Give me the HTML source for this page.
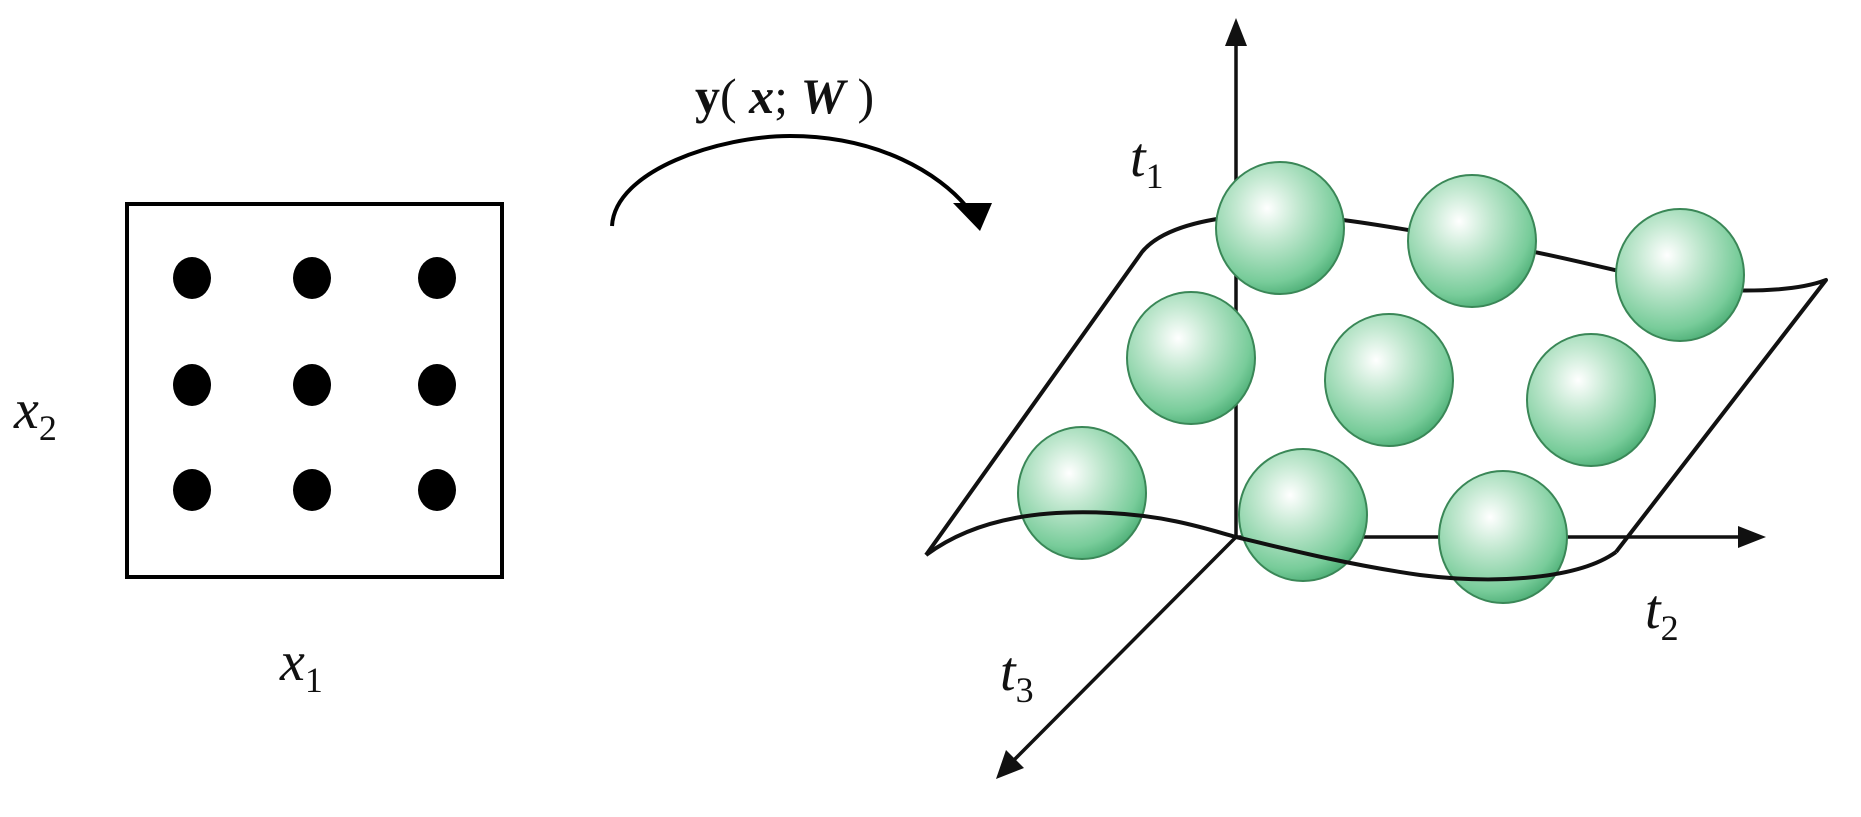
<!DOCTYPE html>
<html><head><style>
html,body{margin:0;padding:0;background:#fff;}
svg{display:block}
text{font-family:"Liberation Serif",serif;fill:#111}
</style></head><body>
<svg width="1861" height="817" viewBox="0 0 1861 817" xmlns="http://www.w3.org/2000/svg">
<defs>
<radialGradient id="g" cx="0.4" cy="0.35" r="0.7">
<stop offset="0" stop-color="#ffffff"/>
<stop offset="0.35" stop-color="#c2e8d0"/>
<stop offset="0.8" stop-color="#78cc9a"/>
<stop offset="1" stop-color="#48ab72"/>
</radialGradient>
</defs>
<rect x="127" y="204" width="375" height="373" fill="none" stroke="#000" stroke-width="4"/>
<g fill="#000">
<ellipse cx="192" cy="278" rx="19" ry="21"/><ellipse cx="312" cy="278" rx="19" ry="21"/><ellipse cx="437" cy="278" rx="19" ry="21"/>
<ellipse cx="192" cy="385" rx="19" ry="21"/><ellipse cx="312" cy="385" rx="19" ry="21"/><ellipse cx="437" cy="385" rx="19" ry="21"/>
<ellipse cx="192" cy="490" rx="19" ry="21"/><ellipse cx="312" cy="490" rx="19" ry="21"/><ellipse cx="437" cy="490" rx="19" ry="21"/>
</g>
<text x="14" y="428" font-size="56" font-style="italic">x<tspan font-size="36" font-style="normal" dy="12">2</tspan></text>
<text x="280" y="680" font-size="56" font-style="italic">x<tspan font-size="36" font-style="normal" dy="12">1</tspan></text>
<text x="695" y="113" font-size="50"><tspan font-weight="bold">y</tspan>( <tspan font-style="italic" font-weight="bold">x</tspan>; <tspan font-style="italic" font-weight="bold">W</tspan> )</text>
<path d="M612,226 C615,170 720,136 790,136 C880,136 940,175 966,206" fill="none" stroke="#000" stroke-width="4"/>
<polygon points="953,203 992,203 980,231" fill="#000"/>
<line x1="1236" y1="537" x2="1236" y2="40" stroke="#111" stroke-width="3.5"/>
<polygon points="1236,18 1225,46 1247,46" fill="#111"/>
<line x1="1236" y1="537" x2="1740" y2="537" stroke="#111" stroke-width="3.5"/>
<polygon points="1766,537 1738,526 1738,548" fill="#111"/>
<line x1="1236" y1="537" x2="1012" y2="762" stroke="#111" stroke-width="3.5"/>
<polygon points="996,779 1006,750 1024,768" fill="#111"/>
<text x="1130" y="176" font-size="56" font-style="italic">t<tspan font-size="36" font-style="normal" dy="12">1</tspan></text>
<text x="1645" y="628" font-size="56" font-style="italic">t<tspan font-size="36" font-style="normal" dy="12">2</tspan></text>
<text x="1000" y="690" font-size="56" font-style="italic">t<tspan font-size="36" font-style="normal" dy="12">3</tspan></text>
<path d="M926,555 L1142,252 C1160,230 1200,220 1240,216 C1320,210 1400,230 1480,242 C1580,258 1660,285 1720,290 C1770,292 1805,288 1826,280 L1616,552" fill="none" stroke="#111" stroke-width="4" stroke-linejoin="round"/>
<g fill="url(#g)" stroke="#3a8757" stroke-width="2">
<ellipse cx="1280" cy="228" rx="64" ry="66"/>
<ellipse cx="1472" cy="241" rx="64" ry="66"/>
<ellipse cx="1680" cy="275" rx="64" ry="66"/>
<ellipse cx="1191" cy="358" rx="64" ry="66"/>
<ellipse cx="1389" cy="380" rx="64" ry="66"/>
<ellipse cx="1591" cy="400" rx="64" ry="66"/>
<ellipse cx="1082" cy="493" rx="64" ry="66"/>
<ellipse cx="1303" cy="515" rx="64" ry="66"/>
<ellipse cx="1503" cy="537" rx="64" ry="66"/>
</g>
<path d="M926,555 C980,515 1050,510 1110,513 C1170,516 1210,530 1236,537 C1290,550 1350,565 1420,575 C1500,585 1580,578 1616,552" fill="none" stroke="#111" stroke-width="4" stroke-linejoin="round"/>
</svg>
</body></html>
